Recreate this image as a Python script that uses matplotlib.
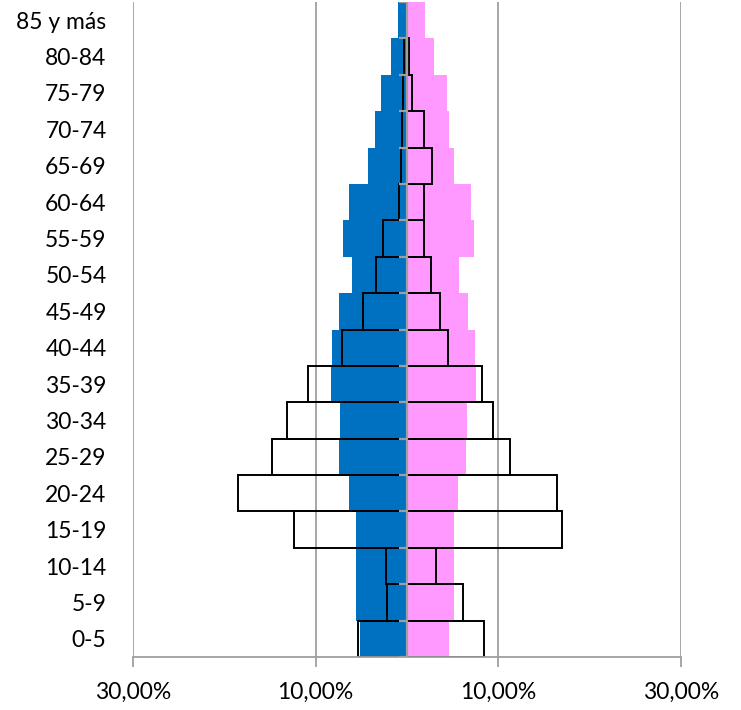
import numpy as np
import matplotlib
matplotlib.use("Agg")
import matplotlib.pyplot as plt
from matplotlib.ticker import FuncFormatter

plt.rcParams['font.family'] = ['Lato', 'DejaVu Sans']

# age groups, bottom to top
cats = ['0-5', '5-9', '10-14', '15-19', '20-24', '25-29', '30-34', '35-39', '40-44',
        '45-49', '50-54', '55-59', '60-64', '65-69', '70-74', '75-79', '80-84', '85 y más']
# filled bars (% of population)
male = [5.1, 5.6, 5.6, 5.6, 6.4, 7.4, 7.3, 8.3, 8.2, 7.4, 6.0, 7.0, 6.3, 4.3, 3.5, 2.9, 1.8, 1.0]
female = [4.6, 5.1, 5.1, 5.2, 5.6, 6.5, 6.6, 7.6, 7.4, 6.7, 5.7, 7.3, 7.0, 5.2, 4.6, 4.4, 3.0, 2.0]
# outlined bars (second population)
male2 = [5.35, 2.2, 2.25, 12.35, 18.5, 14.75, 13.1, 10.85, 7.1, 4.8, 3.4, 2.65, 0.9, 0.65, 0.5, 0.45, 0.3, 0.0]
female2 = [8.45, 6.1, 3.2, 17.0, 16.4, 11.3, 9.4, 8.2, 4.5, 3.6, 2.6, 1.9, 1.9, 2.7, 1.9, 0.55, 0.25, 0.0]
xticks = [-30, -10, 10, 30]

grey = '#9F9F9F'
y = np.arange(len(cats))

fig = plt.figure(figsize=(7.41, 7.10), dpi=100)
ax = fig.add_axes([133/741, 1-657/710, (681-133)/741, 655/710])

ax.barh(y, [-v for v in male], height=1.0, color='#0070C0', zorder=2)
ax.barh(y, female, height=1.0, color='#FF99FF', zorder=2)
ax.barh(y, [-v for v in male2], height=1.0, fill=False, edgecolor='black', linewidth=1.4, zorder=3)
ax.barh(y, female2, height=1.0, fill=False, edgecolor='black', linewidth=1.4, zorder=3)

# centre axis line with small ticks at the category boundaries
ax.axvline(0, color=grey, linewidth=1.6, zorder=5)
bounds = np.arange(len(cats) + 1) - 0.5
ax.hlines(bounds, -0.85, 0, color=grey, linewidth=1.6, zorder=5)

ax.set_xlim(-30, 30)
ax.set_ylim(-0.5, len(cats) - 0.5)
ax.set_xticks(xticks)
ax.xaxis.set_major_formatter(FuncFormatter(lambda v, p: f"{abs(v):.2f}%".replace('.', ',')))
ax.grid(axis='x', color=grey, linewidth=1.3, zorder=0)
ax.set_axisbelow(True)

ax.set_yticks(y)
ax.set_yticklabels(cats)
ax.tick_params(axis='y', length=0, pad=19, labelsize=16.5)
ax.tick_params(axis='x', length=7, width=1.3, color=grey, pad=11, labelsize=16.5)

for s in ['left', 'right', 'top']:
    ax.spines[s].set_visible(False)
ax.spines['bottom'].set_color(grey)
ax.spines['bottom'].set_linewidth(1.3)
ax.spines['bottom'].set_zorder(6)

fig.savefig('out.png', dpi=100)
